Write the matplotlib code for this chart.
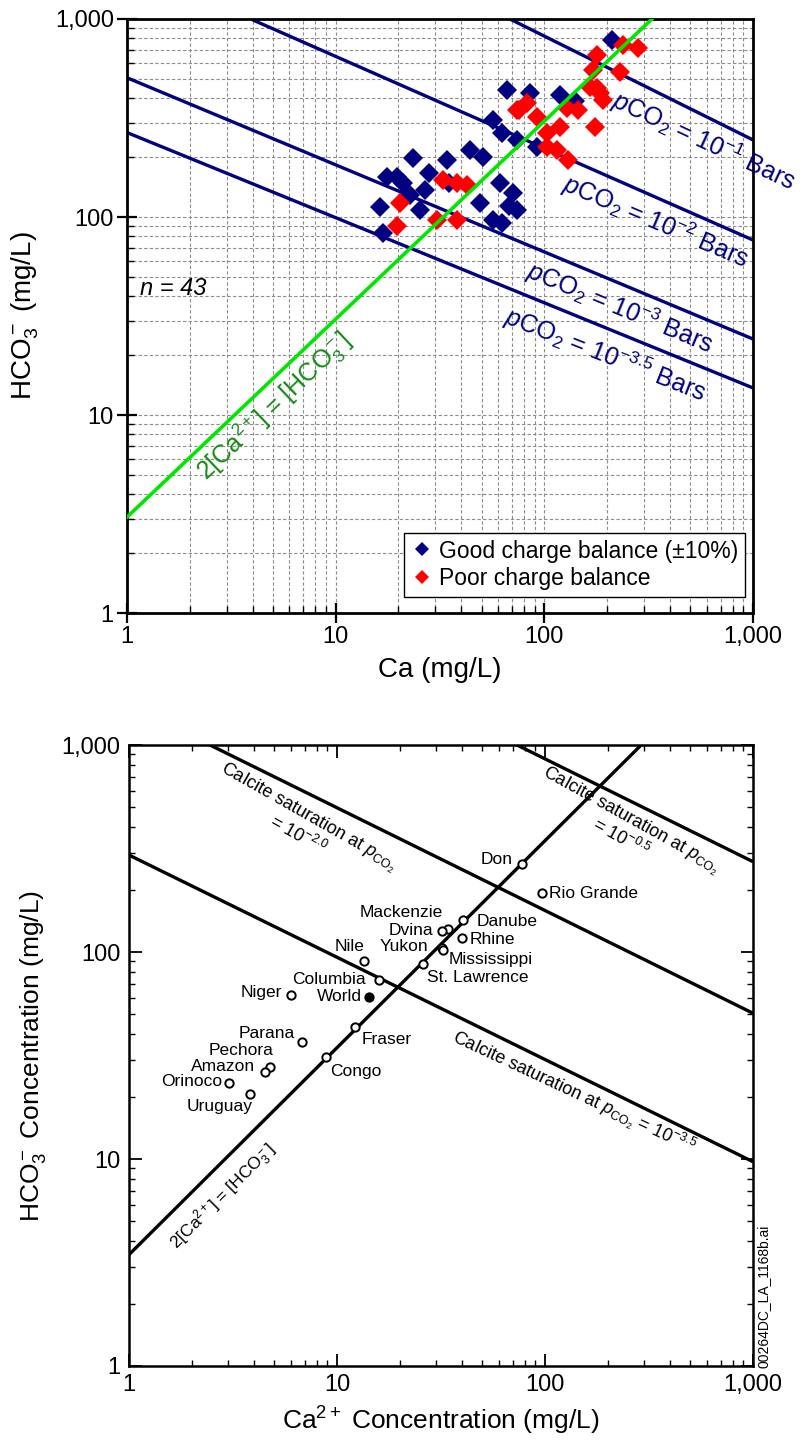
import matplotlib.pyplot as plt
from matplotlib.ticker import FuncFormatter

plt.rcParams['font.family'] = ['Liberation Sans', 'DejaVu Sans']
plt.rcParams['mathtext.fontset'] = 'custom'
plt.rcParams['mathtext.rm'] = 'Liberation Sans'
plt.rcParams['mathtext.it'] = 'Liberation Sans:italic'
plt.rcParams['mathtext.bf'] = 'Liberation Sans:bold'

# --- upper panel: sample chemistry (mg/L) ---
good_ca = [211, 66, 85, 119, 140, 57, 63, 74, 92, 44, 51, 23.5, 34, 28, 17.6, 21,
           16.3, 16.9, 25.3, 49, 61, 71, 74, 63, 57, 35, 19.7, 68, 22.7, 26.8]
good_hco3 = [783, 438, 423, 413, 385, 309, 266, 245, 226, 218, 201, 199, 194, 167, 159, 149,
             112, 83, 108, 118, 149, 132, 108, 93, 97, 149, 159, 114, 129, 137]
poor_ca = [238, 281, 179, 171, 230, 165, 191, 185, 175, 76, 92, 74, 128, 145, 103, 119,
           103, 115, 130, 32.7, 38, 42.6, 20.3, 19.7, 30.6, 38, 179, 83]
poor_hco3 = [739, 714, 658, 552, 540, 454, 390, 423, 285, 347, 320, 347, 356, 347, 266, 285,
             226, 218, 194, 154, 149, 145, 118, 90, 97, 97, 450, 376]

# calcite saturation lines for several pCO2 values (end points)
pco2_names = ['-1', '-2', '-3', '-3.5']
pco2_ca = [[68.4, 1000], [4.0, 1000], [1, 1000], [1, 1000]]
pco2_hco3 = [[1000, 245], [990, 76.5], [505, 24.2], [267, 13.7]]

# 2[Ca2+] = [HCO3-]
eq_ca = [1, 1000]
eq_hco3 = [3.05, 3050]

# --- lower panel: world rivers ---
rivers = ['Don', 'Rio Grande', 'Danube', 'Rhine', 'Mackenzie', 'Dvina', 'Yukon',
          'Mississippi', 'St. Lawrence', 'Nile', 'Columbia', 'World', 'Niger', 'Fraser',
          'Parana', 'Congo', 'Pechora', 'Amazon', 'Orinoco', 'Uruguay']
river_ca = [77.3, 96.4, 40.2, 39.8, 34.2, 32.0, 31.8, 32.2, 25.9, 13.5, 16.0, 14.3, 6.0, 12.2,
            6.77, 8.85, 4.76, 4.51, 3.02, 3.82]
river_hco3 = [265, 192, 143, 117, 129, 126, 104, 102, 87.5, 90.8, 73.3, 60.4, 62.2, 43.3,
              36.6, 31.0, 27.7, 26.4, 23.2, 20.6]

calc_names = ['-0.5', '-2.0', '-3.5']
calc_ca = [[73.3, 1000], [2.45, 1000], [1, 1000]]
calc_hco3 = [[1000, 273], [1000, 50.6], [294, 9.7]]

line_ca = [1, 290]
line_hco3 = [3.45, 1000]

# label offsets (points) and alignment for river names
label_pos = {
    'Don': (-6.5, 3.5, 'right'), 'Rio Grande': (5.5, 0, 'left'), 'Danube': (10, -1, 'left'),
    'Rhine': (6, -1, 'left'), 'Mackenzie': (-3.5, 12, 'right'), 'Dvina': (-6, 0.5, 'right'),
    'Yukon': (-9.5, 1.5, 'right'), 'Mississippi': (4.5, -6.5, 'left'),
    'St. Lawrence': (3, -9.5, 'left'), 'Nile': (0.5, 10, 'right'), 'Columbia': (-10, 0.5, 'right'),
    'World': (-5.5, 0.5, 'right'), 'Niger': (-6.5, 1.5, 'right'), 'Fraser': (4.5, -8.5, 'left'),
    'Parana': (-5, 6.5, 'right'), 'Congo': (3, -10.5, 'left'), 'Pechora': (2.5, 12.5, 'right'),
    'Amazon': (-7, 4, 'right'), 'Orinoco': (-5, 1, 'right'), 'Uruguay': (1.5, -9, 'right'),
}

comma = FuncFormatter(lambda v, _: f'{v:,.0f}')
navy = '#000080'

fig = plt.figure(figsize=(8.04, 14.46), dpi=100)

# ---------------- upper panel ----------------
ax1 = fig.add_axes([127 / 804, 833 / 1446, 626 / 804, 594 / 1446])
ax1.set_xscale('log')
ax1.set_yscale('log')
ax1.set_xlim(1, 1000)
ax1.set_ylim(1, 1000)
ax1.grid(True, which='both', color='#8c8c8c', linestyle=(0, (3, 2)), linewidth=0.8)
ax1.set_axisbelow(True)

for ca, hc in zip(pco2_ca, pco2_hco3):
    ax1.plot(ca, hc, color=navy, lw=2.4, zorder=2, solid_capstyle='butt')

ax1.plot(good_ca, good_hco3, 'D', ls='none', color=navy, ms=10.5, mew=0, zorder=3,
         label='Good charge balance (\u00b110%)')
ax1.plot(poor_ca, poor_hco3, 'D', ls='none', color='#ff0000', ms=10.5, mew=0, zorder=3,
         label='Poor charge balance')
ax1.plot(eq_ca, eq_hco3, color='#00e600', lw=2.6, zorder=4)

pco2_text = {'-1': (585, 243, -25), '-2': (343, 94.4, -23), '-3': (230, 34.7, -22.5),
             '-3.5': (197, 20.3, -21.5)}
for name in pco2_names:
    x, y, rot = pco2_text[name]
    ax1.text(x, y, r'$p$CO$_2$ = 10$^{' + name + '}$ Bars', color=navy,
             fontsize=18, rotation=rot, rotation_mode='anchor', ha='center', va='center',
             zorder=5)

ax1.text(5.12, 11.0, r'2[Ca$^{2+}$] = [HCO$_3^-$]', color='#138a13', fontsize=18,
         rotation=43.5, rotation_mode='anchor', ha='center', va='center', zorder=5)
ax1.text(1.15, 43.3, 'n = 43', fontsize=17, style='italic', ha='left', va='center')

leg = ax1.legend(loc='lower right', bbox_to_anchor=(0.987, 0.027), borderaxespad=0,
                 fontsize=16.5, markerscale=0.72, handlelength=0.9, handletextpad=0.3,
                 labelspacing=0.2, borderpad=0.3, fancybox=False, framealpha=1)
leg.get_frame().set_edgecolor('black')
leg.get_frame().set_linewidth(1.0)

ax1.xaxis.set_major_formatter(comma)
ax1.yaxis.set_major_formatter(comma)
ax1.tick_params(which='major', direction='inout', length=15, width=1.6, labelsize=17, pad=2)
ax1.tick_params(which='minor', direction='in', length=5, width=1.0)
for s in ax1.spines.values():
    s.set_linewidth(2.0)
ax1.set_xlabel('Ca (mg/L)', fontsize=20, labelpad=6)
ax1.set_ylabel('HCO$_3^-$ (mg/L)', fontsize=20, labelpad=10)

# ---------------- lower panel ----------------
ax2 = fig.add_axes([129 / 804, 80 / 1446, 624 / 804, 621 / 1446])
ax2.set_xscale('log')
ax2.set_yscale('log')
ax2.set_xlim(1, 1000)
ax2.set_ylim(1, 1000)

for ca, hc in zip(calc_ca, calc_hco3):
    ax2.plot(ca, hc, color='black', lw=2.4, solid_capstyle='butt', zorder=2)
ax2.plot(line_ca, line_hco3, color='black', lw=2.4, solid_capstyle='butt', zorder=2)

narrow = ['Liberation Sans Narrow', 'Liberation Sans', 'DejaVu Sans']
for name, ca, hc in zip(rivers, river_ca, river_hco3):
    face = 'black' if name == 'World' else 'white'
    ax2.plot(ca, hc, 'o', ms=6, mfc=face, mec='black', mew=1.4, zorder=3)
    dx, dy, ha = label_pos[name]
    ax2.annotate(name, (ca, hc), xytext=(dx, dy), textcoords='offset points', ha=ha,
                 va='center', fontsize=12.5, family=narrow)

calc_text = {'-0.5': (245, 393, -29), '-2.0': (6.87, 406, -29.5)}
for name in calc_names[:2]:
    x, y, rot = calc_text[name]
    ax2.text(x, y, 'Calcite saturation at $p_{\\mathrm{CO}_2}$\n= 10$^{' + name + '}$',
             fontsize=13, family=narrow, rotation=rot, rotation_mode='anchor',
             ha='center', va='center', multialignment='center', linespacing=0.95)
ax2.text(138, 20.8, 'Calcite saturation at $p_{\\mathrm{CO}_2}$ = 10$^{-3.5}$', fontsize=13,
         family=narrow, rotation=-25, rotation_mode='anchor', ha='center', va='center')
ax2.text(2.83, 6.55, r'2[Ca$^{2+}$] = [HCO$_3^-$]', fontsize=12.5, family=narrow,
         rotation=45, rotation_mode='anchor', ha='center', va='center')

ax2.xaxis.set_major_formatter(comma)
ax2.yaxis.set_major_formatter(comma)
ax2.tick_params(which='both', direction='in', top=True, right=True)
ax2.tick_params(which='major', length=9, width=1.3, labelsize=17, pad=6)
ax2.tick_params(which='minor', length=4.5, width=1.0)
for s in ax2.spines.values():
    s.set_linewidth(1.8)
ax2.set_xlabel('Ca$^{2+}$ Concentration (mg/L)', fontsize=19, labelpad=6)
ax2.set_ylabel('HCO$_3^-$ Concentration (mg/L)', fontsize=19, labelpad=10)

fig.text(764 / 804, 78 / 1446, '00264DC_LA_1168b.ai', rotation=90, fontsize=10,
         ha='center', va='bottom')

fig.savefig('out.png', dpi=100)
